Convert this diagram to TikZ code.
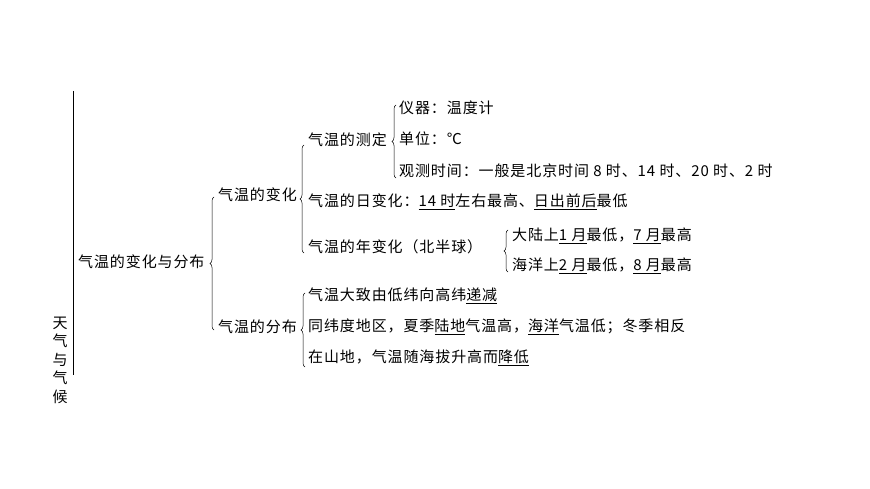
\documentclass[tikz,border=0pt]{standalone}
\usepackage{fontspec}
\setmainfont[LetterSpace=6]{Noto Sans CJK SC}
\usetikzlibrary{decorations.pathreplacing}
\newcommand\ud[1]{\underline{#1}}
\begin{document}
\begin{tikzpicture}[x=1pt,y=-1pt,
  t/.style={anchor=west,inner sep=0pt,font=\fontsize{15}{16}\selectfont},
  br/.style={decorate,decoration={brace,amplitude=4pt},line width=0.5pt}]
\useasboundingbox (0,0) rectangle (870,489);
\draw[line width=0.6pt] (73,91) -- (73,375);
\node[inner sep=0pt,align=center,font=\fontsize{15}{18.5}\selectfont] (root) at (60,360) {天\\气\\与\\气\\候};
\node[t] (a) at (78,262) {气温的变化与分布};
\draw[br] (214,330) -- (214,197);
\node[t] (b1) at (218,195) {气温的变化};
\node[t] (b2) at (218,327) {气温的分布};
\draw[br] (304,253) -- (304,145);
\node[t] (c1) at (308,140) {气温的测定};
\node[t] (c2) at (308,202) {气温的日变化：\ud{14 时}左右最高、\ud{日出前后}最低};
\node[t] (c3) at (308,247) {气温的年变化（北半球）};
\draw[br] (508,272) -- (508,230);
\node[t] (e1) at (512,236) {大陆上\ud{1 月}最低，\ud{7 月}最高};
\node[t] (e2) at (512,266) {海洋上\ud{2 月}最低，\ud{8 月}最高};
\draw[br] (396,178) -- (396,105);
\node[t] (d1) at (399,108) {仪器：温度计};
\node[t] (d2) at (399,139) {单位：℃};
\node[t] (d3) at (399,171) {观测时间：一般是北京时间 8 时、14 时、20 时、2 时};
\draw[br] (305,367) -- (305,293);
\node[t] (f1) at (308,296) {气温大致由低纬向高纬\ud{递减}};
\node[t] (f2) at (308,327) {同纬度地区，夏季\ud{陆地}气温高，\ud{海洋}气温低；冬季相反};
\node[t] (f3) at (308,358) {在山地，气温随海拔升高而\ud{降低}};
\end{tikzpicture}
\end{document}
